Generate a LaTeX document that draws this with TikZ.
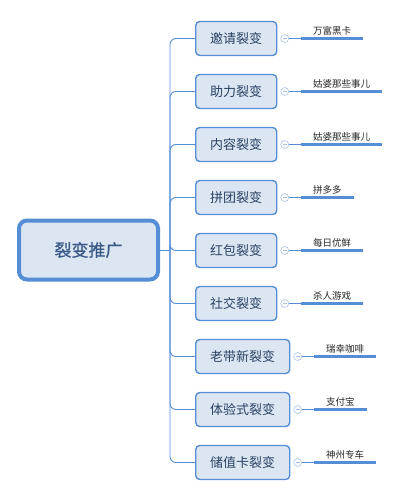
\documentclass[tikz,border=0pt]{standalone}
\usepackage{fontspec}
\newfontfamily\cjk{Noto Sans CJK SC}
\newfontfamily\cjkroot[FakeBold=0.8]{Noto Sans CJK SC}
\usepackage{tikz}
\usetikzlibrary{positioning,calc}

\definecolor{mapblue}{HTML}{558ED5}
\definecolor{mapfill}{HTML}{DCE6F2}
\definecolor{maptext}{HTML}{2A4163}
\definecolor{rootext}{HTML}{3A5A88}
\definecolor{foldblue}{HTML}{A9C4EB}

\tikzset{
  rootbox/.style={draw=mapblue, line width=4pt, fill=mapfill, rounded corners=8pt,
    minimum width=139pt, minimum height=59pt, font=\cjkroot\fontsize{17}{20}\selectfont, text=rootext},
  branchbox/.style={draw=mapblue, line width=1.4pt, fill=mapfill, rounded corners=4pt,
    minimum height=34pt, font=\cjk\fontsize{13}{16}\selectfont, text=maptext},
  fold/.style={draw=foldblue, fill=white, circle, line width=0.6pt, minimum size=8pt, inner sep=0pt},
  leaf/.style={font=\cjk\fontsize{9.5}{11}\selectfont, text=black!85, inner xsep=12pt, inner ysep=3pt},
  link/.style={draw=mapblue, line width=0.9pt},
  leafline/.style={draw=mapblue, line width=2.6pt}
}

\begin{document}
\begin{tikzpicture}[x=1pt, y=-1pt]
    \useasboundingbox (0,0) rectangle (400,497);

    % root
    \node[rootbox] (root) at (88.5,250) {裂变推广};
    \coordinate (trunk) at (170,250);
    \draw[link] (root.east) -- (trunk);

    % branches with their collapse marks and leaves
    \foreach \i/\name/\leafname/\w in {1/邀请裂变/万富黑卡/81, 2/助力裂变/姑婆那些事儿/81,
        3/内容裂变/姑婆那些事儿/81, 4/拼团裂变/拼多多/81, 5/红包裂变/每日优鲜/81,
        6/社交裂变/杀人游戏/81, 7/老带新裂变/瑞幸咖啡/94, 8/体验式裂变/支付宝/94,
        9/储值卡裂变/神州专车/94} {
        \node[branchbox, minimum width=\w pt, anchor=west] (b\i) at (195,{38.5+53*(\i-1)}) {\name};
        \draw[link, rounded corners=6pt] (trunk) |- (b\i.west);
        \node[fold, right=3pt of b\i] (c\i) {};
        \draw[foldblue, line width=0.6pt] ([xshift=-2pt]c\i.center) -- ([xshift=2pt]c\i.center);
        \node[leaf, anchor=south west] (l\i) at ($(c\i.east)+(12,0)$) {\leafname};
        \draw[link] (c\i.east) -- (l\i.south west);
        \draw[leafline] (l\i.south west) -- (l\i.south east);
    }
\end{tikzpicture}
\end{document}
